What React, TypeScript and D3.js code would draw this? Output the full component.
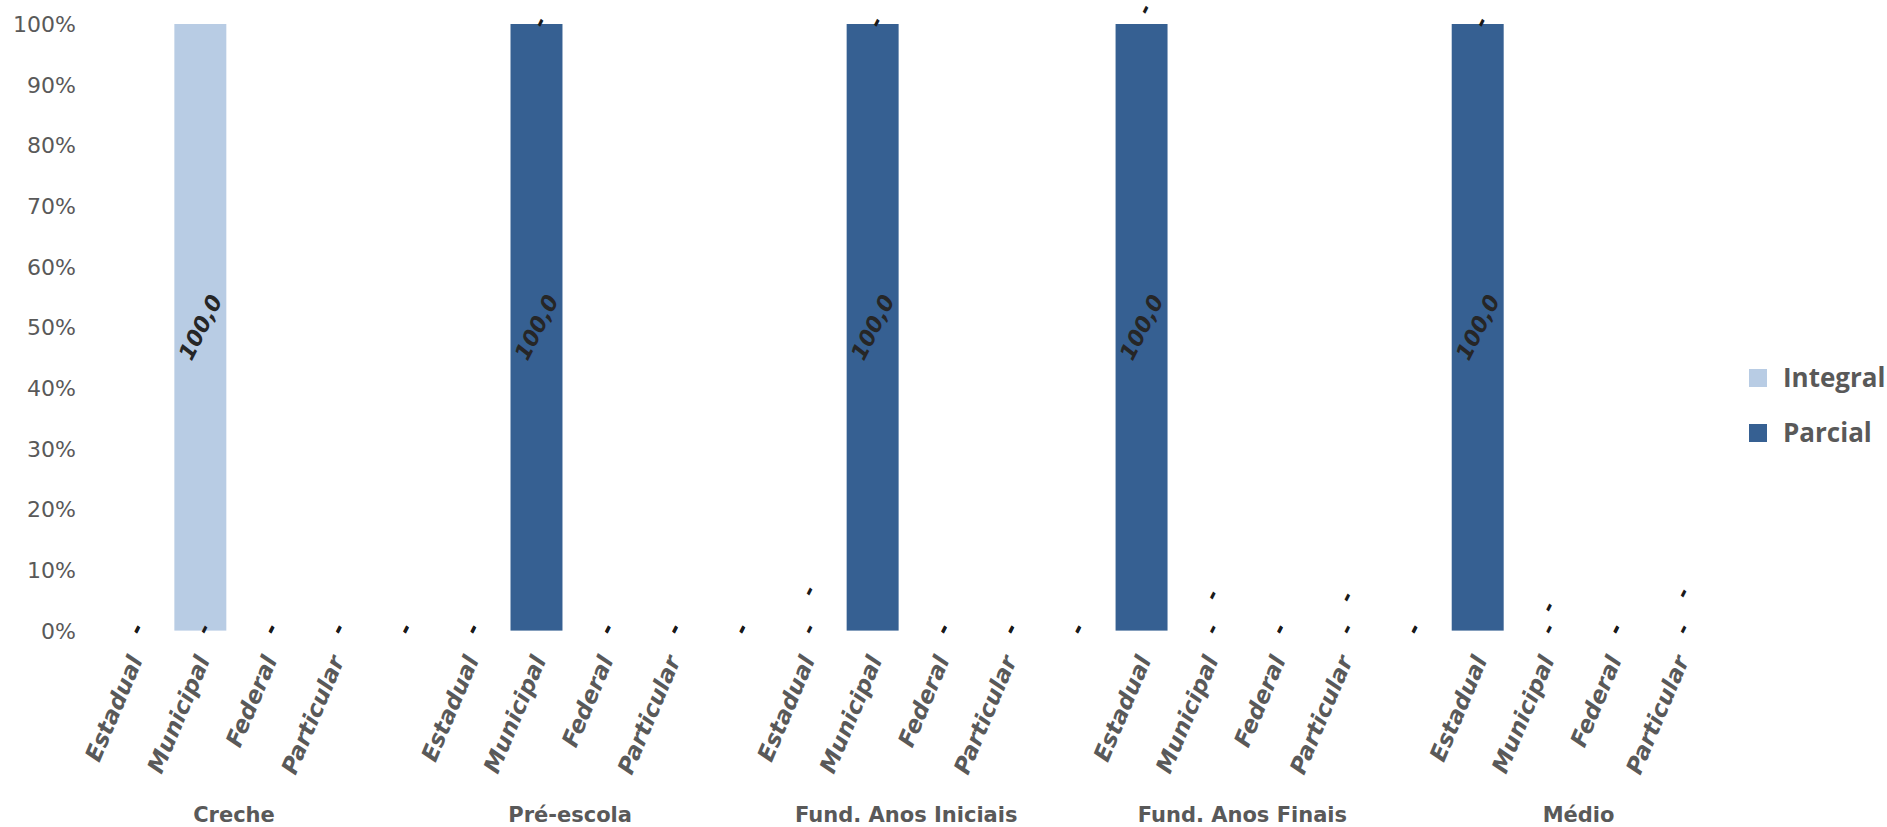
import React from "react";
import * as d3 from "d3";

const groups = ["Creche", "Pré-escola", "Fund. Anos Iniciais", "Fund. Anos Finais", "Médio"];
const networks = ["Estadual", "Municipal", "Federal", "Particular"];
const seriesNames = ["Integral", "Parcial"];
const seriesColors = ["#B8CCE4", "#366092"];
// values per group, in network order
const integralValues = [
  [0, 100, 0, 0],
  [0, 0, 0, 0],
  [0, 0, 0, 0],
  [0, 0, 0, 0],
  [0, 0, 0, 0],
];
const parcialValues = [
  [0, 0, 0, 0],
  [0, 100, 0, 0],
  [0, 100, 0, 0],
  [100, 0, 0, 0],
  [100, 0, 0, 0],
];
const yTicks = [0, 10, 20, 30, 40, 50, 60, 70, 80, 90, 100];
// label nudges (px) for the Integral zero labels, per category slot (Excel overlap quirks)
const integralLabelNudge = [0, 0, 0, 0, 0, 0, 0, 0, 0, 0, -38, 0, 0, 0, 0, -13, -34, 0, -32, 0, 0, -22, 0, -36];

type Slot = { key: string; group: number; network: number | null; integral: number; parcial: number };

const slots: Slot[] = [];
groups.forEach((g, gi) => {
  networks.forEach((n, ni) => {
    slots.push({ key: `${gi}-${ni}`, group: gi, network: ni, integral: integralValues[gi][ni], parcial: parcialValues[gi][ni] });
  });
  if (gi < groups.length - 1) slots.push({ key: `${gi}-blank`, group: gi, network: null, integral: 0, parcial: 0 });
});

const W = 1887;
const H = 827;
const plotLeft = 99.5;
const plotRight = 1713;
const plotTop = 24;
const plotBottom = 630.6;

export default function App() {
  const x = d3
    .scaleBand<string>()
    .domain(slots.map((s) => s.key))
    .range([plotLeft, plotRight])
    .paddingInner(0.227)
    .paddingOuter(0.1135);
  const y = d3.scaleLinear().domain([0, 100]).range([plotBottom, plotTop]);
  const pct = d3.format(".0%");
  const fmt = (v: number) => (v === 0 ? "-" : v.toFixed(1).replace(".", ","));

  const stacked = slots.map((s, i) => {
    const total = s.integral + s.parcial;
    const pP = total > 0 ? (s.parcial / total) * 100 : 0;
    const pI = total > 0 ? (s.integral / total) * 100 : 0;
    return {
      s,
      i,
      segs: [
        { name: "Parcial", color: seriesColors[1], y0: 0, y1: pP, v: s.parcial, nudge: 0 },
        { name: "Integral", color: seriesColors[0], y0: pP, y1: pP + pI, v: s.integral, nudge: integralLabelNudge[i] },
      ],
    };
  });

  const rot = -63;
  const catRot = -67;
  const axisFont = "'DejaVu Sans', Verdana, sans-serif";

  return (
    <svg width={W} height={H} style={{ position: "absolute", left: 0, top: 0, display: "block", background: "#fff" }}>
      {/* y axis tick labels */}
      {yTicks.map((t) => (
        <text key={t} x={76} y={y(t)} dy="0.36em" textAnchor="end" fontFamily={axisFont} fontSize={22} fill="#595959">
          {pct(t / 100)}
        </text>
      ))}
      {/* bars */}
      {stacked.map(({ s, segs }) =>
        segs.map((seg) =>
          seg.y1 > seg.y0 ? (
            <rect
              key={s.key + seg.name}
              x={x(s.key)!}
              y={y(seg.y1)}
              width={x.bandwidth()}
              height={y(seg.y0) - y(seg.y1)}
              fill={seg.color}
            />
          ) : null
        )
      )}
      {/* data labels */}
      {stacked.map(({ s, segs }) =>
        segs.map((seg) => {
          const cx = x(s.key)! + x.bandwidth() / 2 + (seg.v === 0 ? 3 : 0);
          const cy = y((seg.y0 + seg.y1) / 2) + seg.nudge - (seg.v === 0 ? 2 : 0);
          return (
            <text
              key={"l" + s.key + seg.name}
              transform={`translate(${cx},${cy}) rotate(${rot})`}
              textAnchor="middle"
              dy="0.35em"
              fontFamily={axisFont}
              fontWeight="bold"
              fontStyle="italic"
              fontSize={22}
              fill={seg.v === 0 ? "#1a1a1a" : "#262626"}
            >
              {fmt(seg.v)}
            </text>
          );
        })
      )}
      {/* category labels */}
      {slots.map((s) =>
        s.network === null ? null : (
          <text
            key={"c" + s.key}
            transform={`translate(${x(s.key)! + x.bandwidth() / 2 + 10},${660}) rotate(${catRot})`}
            textAnchor="end"
            fontFamily={axisFont}
            fontWeight="bold"
            fontStyle="italic"
            fontSize={23}
            fill="#595959"
          >
            {networks[s.network]}
          </text>
        )
      )}
      {/* group labels */}
      {groups.map((g, gi) => {
        const first = x(`${gi}-0`)!;
        const last = x(`${gi}-3`)! + x.bandwidth();
        return (
          <text
            key={"g" + g}
            x={(first + last) / 2}
            y={822}
            textAnchor="middle"
            fontFamily={axisFont}
            fontWeight="bold"
            fontSize={21}
            fill="#595959"
          >
            {g}
          </text>
        );
      })}
      {/* legend */}
      {seriesNames.map((n, i) => (
        <g key={n} transform={`translate(1749,${369 + i * 55})`}>
          <rect width={18} height={18} fill={seriesColors[i]} />
          <text x={34} y={18} fontFamily="'Open Sans', sans-serif" fontWeight="bold" fontSize={26} fill="#595959">
            {n}
          </text>
        </g>
      ))}
    </svg>
  );
}
